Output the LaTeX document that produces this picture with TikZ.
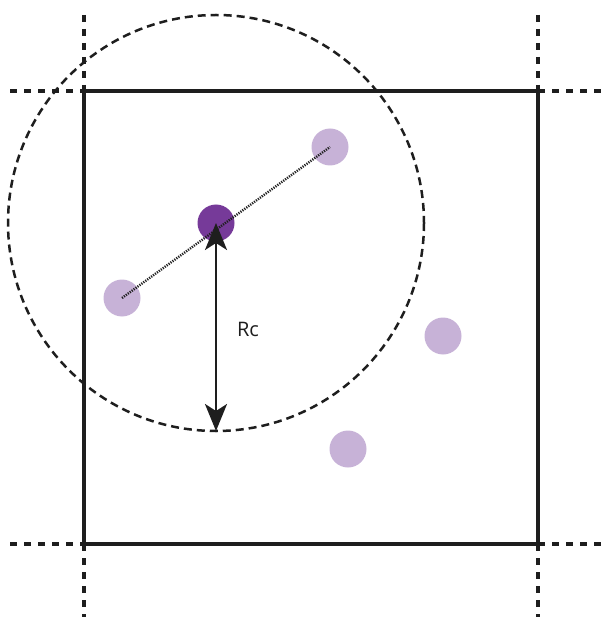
\documentclass[tikz,border=0pt]{standalone}
\usepackage{fontspec}
\setsansfont{Open Sans}
\usetikzlibrary{arrows.meta,positioning}
\definecolor{ink}{HTML}{1E1E1E}
\definecolor{darkp}{HTML}{763A99}
\definecolor{lightp}{HTML}{C7B2D7}
\tikzset{dot/.style={circle,inner sep=0pt,minimum size=37pt},
  ext/.style={line width=3.5pt,ink,dash pattern=on 7pt off 7pt},
  arr/.style={line width=2.5pt,ink,{Stealth[length=27pt,width=22pt,inset=7pt]}-{Stealth[length=27pt,width=22pt,inset=7pt]}}}
\begin{document}
\begin{tikzpicture}[x=1pt,y=-1pt]
\useasboundingbox (0,0) rectangle (606,617);
% box and periodic images
\draw[line width=3.5pt,ink] (84,91) rectangle (538,544);
\draw[ext] (84,15)--(84,91);\draw[ext] (84,544)--(84,617);\draw[ext] (538,15)--(538,91);\draw[ext] (538,544)--(538,617);
\draw[ext] (10,91)--(84,91);\draw[ext] (538,91)--(606,91);\draw[ext] (10,544)--(84,544);\draw[ext] (538,544)--(606,544);
% cutoff sphere
\draw[line width=2.5pt,ink,dash pattern=on 8pt off 5pt] (216,223) circle (208);
% particles
\node[dot,fill=lightp] (p1) at (330,147) {};\node[dot,fill=lightp] (p2) at (122,298) {};
\node[dot,fill=lightp] (p3) at (443,336) {};\node[dot,fill=lightp] (p4) at (348,449) {};
\node[dot,fill=darkp] (c) at (216,223) {};
\draw[ink,line width=2.4pt,dash pattern=on 1.2pt off 1.2pt] (p2.center)--(p1.center);
\coordinate (rb) at (216,431);
\draw[arr] (c.center)--(rb);
\node[font=\sffamily\fontsize{20}{24}\selectfont,ink] (rc) at (248,329) {Rc};
\end{tikzpicture}
\end{document}
